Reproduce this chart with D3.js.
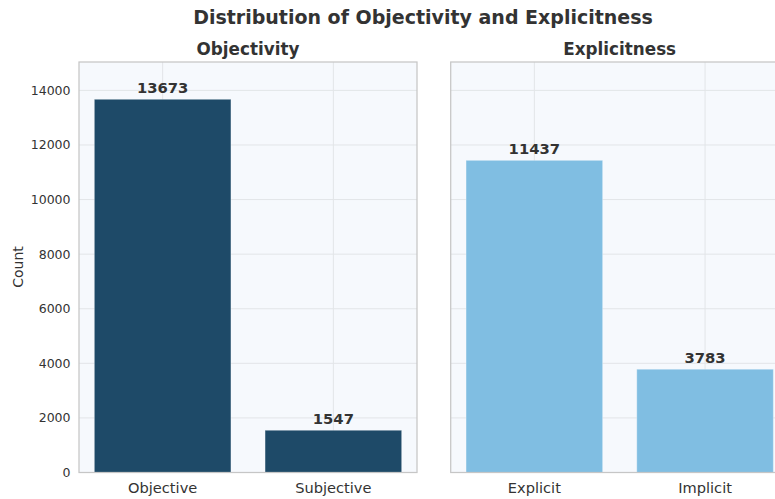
<!DOCTYPE html>
<html>
<head>
<meta charset="utf-8">
<script src="https://cdn.jsdelivr.net/npm/d3@7"></script>
<style>
  body { margin: 0; background: #fff; }
  text { font-family: "DejaVu Sans", sans-serif; fill: #333; }
</style>
</head>
<body>
<div id="chart"></div>
<script>
// Data
const objCategories = ["Objective", "Subjective"];
const objCounts = [13673, 1547];
const expCategories = ["Explicit", "Implicit"];
const expCounts = [11437, 3783];
const yTicks = [0, 2000, 4000, 6000, 8000, 10000, 12000, 14000];

const W = 775, H = 499;
const plotTop = 62, plotBottom = 472.5;
const panelW = 338;
const yMax = 15040;

const svg = d3.select("#chart").append("svg")
    .attr("width", W)
    .attr("height", H);

const y = d3.scaleLinear().domain([0, yMax]).range([plotBottom, plotTop]);

// Title
svg.append("text")
    .attr("x", 423).attr("y", 24)
    .attr("text-anchor", "middle")
    .style("font-size", "19px")
    .style("font-weight", "bold")
    .text("Distribution of Objectivity and Explicitness");

// Y label
svg.append("text")
    .attr("transform", `translate(23,267) rotate(-90)`)
    .attr("text-anchor", "middle")
    .style("font-size", "14px")
    .text("Count");

function drawPanel(x0, title, cats, vals, color, showY) {
    const g = svg.append("g").attr("transform", `translate(${x0},0)`);

    const x = d3.scaleBand()
        .domain(cats)
        .range([0, panelW])
        .paddingInner(0.2)
        .paddingOuter(0.09);

    // background
    g.append("rect")
        .attr("x", 0).attr("y", plotTop)
        .attr("width", panelW).attr("height", plotBottom - plotTop)
        .attr("fill", "#f6f9fd");

    // grid
    g.selectAll(".hgrid").data(yTicks).enter().append("line")
        .attr("x1", 0).attr("x2", panelW)
        .attr("y1", d => y(d)).attr("y2", d => y(d))
        .attr("stroke", "#e2e5e8").attr("stroke-width", 1);
    g.selectAll(".vgrid").data(cats).enter().append("line")
        .attr("x1", d => x(d) + x.bandwidth() / 2).attr("x2", d => x(d) + x.bandwidth() / 2)
        .attr("y1", plotTop).attr("y2", plotBottom)
        .attr("stroke", "#e2e5e8").attr("stroke-width", 1);

    // bars
    g.selectAll(".bar").data(vals).enter().append("rect")
        .attr("x", (d, i) => x(cats[i]))
        .attr("width", x.bandwidth())
        .attr("y", d => y(d))
        .attr("height", d => plotBottom - y(d))
        .attr("fill", color)
        .attr("stroke", "rgba(255,255,255,0.3)")
        .attr("stroke-width", 1);

    // bar labels
    g.selectAll(".lbl").data(vals).enter().append("text")
        .attr("x", (d, i) => x(cats[i]) + x.bandwidth() / 2)
        .attr("y", d => y(d) - 6.5)
        .attr("text-anchor", "middle")
        .style("font-size", "14.8px")
        .style("font-weight", "bold")
        .text(d => d);

    // spines
    g.append("rect")
        .attr("x", 0).attr("y", plotTop)
        .attr("width", panelW).attr("height", plotBottom - plotTop)
        .attr("fill", "none")
        .attr("stroke", "#c6c6c6").attr("stroke-width", 1.25);

    // x axis
    const xAxis = g.append("g")
        .attr("transform", `translate(0,${plotBottom})`)
        .call(d3.axisBottom(x).tickSize(0).tickPadding(0));
    xAxis.select(".domain").remove();
    xAxis.selectAll("text")
        .attr("y", 20.5).attr("dy", null)
        .style("font-size", "14.6px");

    if (showY) {
        const yAxis = g.append("g")
            .call(d3.axisLeft(y).tickValues(yTicks).tickSize(0).tickPadding(8.5).tickFormat(d3.format("d")));
        yAxis.select(".domain").remove();
        yAxis.selectAll("text").style("font-size", "12.5px");
    }

    // subtitle
    g.append("text")
        .attr("x", panelW / 2).attr("y", 55)
        .attr("text-anchor", "middle")
        .style("font-size", "16.8px")
        .style("font-weight", "bold")
        .text(title);
}

drawPanel(79, "Objectivity", objCategories, objCounts, "#1e4a68", true);
drawPanel(450.7, "Explicitness", expCategories, expCounts, "#80bee2", false);
</script>
</body>
</html>
